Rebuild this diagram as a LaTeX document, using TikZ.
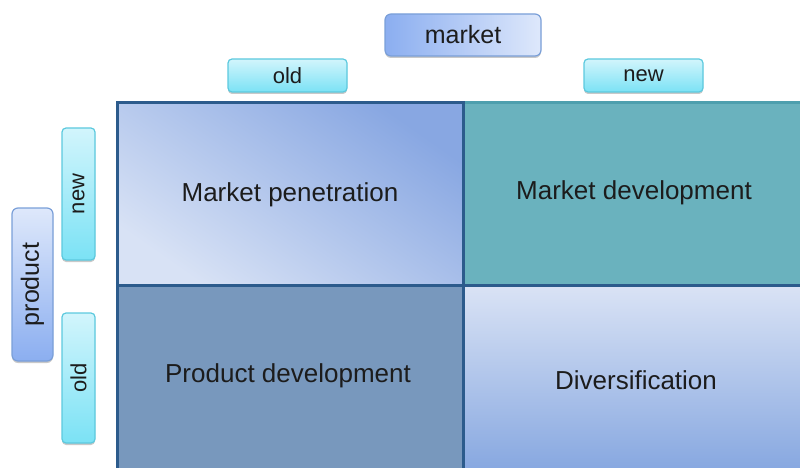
\documentclass[tikz,border=0pt]{standalone}
\usepackage{fontspec}
\setmainfont{Liberation Sans}
\usetikzlibrary{shadows}
\definecolor{darkline}{HTML}{2C5B8C}
\definecolor{tealline}{HTML}{4E9FAE}
\definecolor{tlLight}{HTML}{D8E2F5}
\definecolor{tlDark}{HTML}{88A7E2}
\definecolor{trFill}{HTML}{6AB2BE}
\definecolor{blFill}{HTML}{7898BD}
\definecolor{brTop}{HTML}{DAE3F5}
\definecolor{brBot}{HTML}{86A7E0}
\definecolor{mkDark}{HTML}{8BAEF0}
\definecolor{mkLight}{HTML}{DEE8FB}
\definecolor{mkLine}{HTML}{7A9FD8}
\definecolor{cyTop}{HTML}{D2F5FC}
\definecolor{cyBot}{HTML}{7BE2F5}
\definecolor{cyLine}{HTML}{5CC9DE}
\definecolor{txt}{HTML}{1C1C1C}
\tikzset{
  cellbox/.style={rectangle, inner sep=0pt, outer sep=0pt, line width=3pt},
  celltext/.style={text=txt, font=\fontsize{26}{30}\selectfont, inner sep=0pt},
  shadowed/.style={drop shadow={shadow xshift=0pt, shadow yshift=-2pt, opacity=.3, fill=black!70}},
  cyanbox/.style={rectangle, rounded corners=4pt, draw=cyLine, line width=1.2pt,
    top color=cyTop, bottom color=cyBot, inner sep=0pt, text=txt,
    font=\fontsize{22}{26}\selectfont, shadowed},
  bluebox/.style={rectangle, rounded corners=6pt, draw=mkLine, line width=1.2pt,
    inner sep=0pt, text=txt, font=\fontsize{25}{30}\selectfont, shadowed}
}
\begin{document}
\begin{tikzpicture}[x=1pt,y=-1pt]
\useasboundingbox (0,0) rectangle (800,468);
\clip (0,0) rectangle (800,468);
% cells
\node[cellbox, draw=tealline, fill=trFill, minimum width=343pt, minimum height=182pt] (tr) at (634.5,194) {};
\node[cellbox, draw=darkline, top color=brTop, bottom color=brBot, minimum width=343pt, minimum height=187pt] (br) at (634.5,378.5) {};
\node[cellbox, draw=darkline, fill=blFill, minimum width=346pt, minimum height=187pt] (bl) at (290,378.5) {};
\node[cellbox, draw=darkline, top color=tlDark, bottom color=tlLight, shading angle=-35, minimum width=346pt, minimum height=182pt] (tl) at (290,194) {};
% cell labels
\node[celltext] (tltext) at (290,195) {Market penetration};
\node[celltext] (trtext) at (634,193) {Market development};
\node[celltext] (bltext) at (288,376) {Product development};
\node[celltext] (brtext) at (636,380) {Diversification};
% market header
\node[bluebox, left color=mkDark, right color=mkLight, minimum width=156pt, minimum height=42pt] (market) at (463,35) {market};
\node[cyanbox, minimum width=119pt, minimum height=33pt] (mold) at (287.5,75.5) {old};
\node[cyanbox, minimum width=119pt, minimum height=33pt] (mnew) at (643.5,75.5) {new};
% product header
\node[bluebox, top color=mkLight, bottom color=mkDark, minimum width=41pt, minimum height=153pt] (product) at (32.5,284.5) {\rotatebox{90}{product}};
\node[cyanbox, minimum width=33pt, minimum height=132pt] (pnew) at (78.5,194) {\rotatebox{90}{new}};
\node[cyanbox, minimum width=33pt, minimum height=130pt] (pold) at (78.5,378) {\rotatebox{90}{old}};
\end{tikzpicture}
\end{document}
